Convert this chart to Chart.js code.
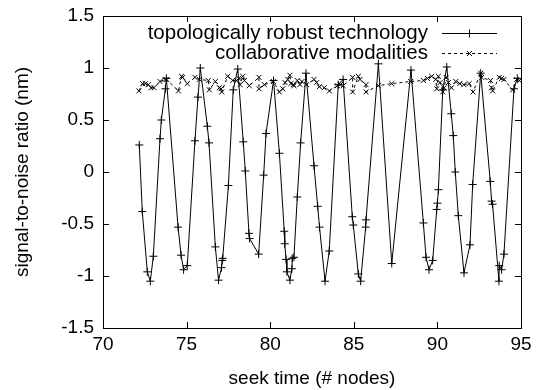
<!DOCTYPE html>
<html><head><meta charset="utf-8">
<script src="https://cdn.jsdelivr.net/npm/chart.js@4/dist/chart.umd.min.js"></script>
<style>html,body{margin:0;padding:0;background:#fff}</style>
</head><body>
<canvas id="c" width="542" height="390"></canvas>
<script>
const seriesNames = ['topologically robust technology', 'collaborative modalities'];
const xTitle = 'seek time (# nodes)';
const yTitle = 'signal-to-noise ratio (nm)';
const xTicks = [70, 75, 80, 85, 90, 95];
const yTicks = [-1.5, -1, -0.5, 0, 0.5, 1, 1.5];

const xA = [72.17,72.35,72.65,72.83,73.01,73.41,73.49,73.73,73.79,74.49,74.67,74.82,75.04,75.50,75.68,75.82,76.24,76.34,76.72,76.91,77.09,77.13,77.16,77.50,77.79,78.06,78.39,78.51,78.73,78.77,79.31,79.61,79.75,80.20,80.55,80.84,80.87,80.95,81.00,81.18,81.30,81.32,81.42,81.62,81.82,82.14,82.62,82.84,82.95,83.28,83.53,84.07,84.36,84.91,84.97,85.27,85.41,85.71,85.73,86.47,87.27,88.42,89.16,89.32,89.50,89.72,89.96,90.00,90.06,90.32,90.56,90.83,90.95,91.07,91.25,91.59,91.95,92.11,92.59,93.16,93.24,93.30,93.68,93.70,93.84,93.98,94.58,94.78];
const yA = [0.26,-0.38,-0.96,-1.05,-0.81,0.32,0.50,0.80,0.90,-0.53,-0.80,-0.94,-0.90,0.30,0.72,1.00,0.44,0.28,-0.72,-1.04,-0.92,-0.85,-0.83,-0.13,0.79,0.99,0.29,0.01,-0.59,-0.64,-0.79,-0.03,0.37,0.88,0.18,-0.57,-0.69,-0.84,-0.96,-1.04,-0.93,-0.83,-0.82,-0.24,0.28,0.95,0.06,-0.33,-0.53,-1.05,-0.76,0.84,0.89,-0.43,-0.51,-0.98,-1.05,-0.53,-0.46,1.04,-0.88,0.98,-0.49,-0.82,-0.94,-0.85,-0.36,-0.30,-0.17,0.79,1.01,0.56,0.35,0.00,-0.42,-0.97,-0.70,-0.12,0.95,-0.09,-0.28,-0.31,-1.05,-0.90,-0.94,-0.79,0.80,0.90];

const xB = [72.15,72.37,72.53,72.71,72.87,73.05,73.41,73.71,73.81,74.51,74.70,74.76,75.04,75.50,75.76,76.30,76.36,76.72,76.96,77.06,77.10,77.46,77.76,78.00,78.12,78.20,78.36,78.46,78.75,79.33,79.33,79.65,80.19,80.55,80.75,80.89,81.05,81.18,81.24,81.38,81.42,81.62,81.78,81.90,82.18,82.62,82.78,82.94,83.23,83.54,84.02,84.18,84.37,84.93,84.93,85.27,85.37,85.73,85.73,86.47,87.27,88.40,89.16,89.40,89.66,89.90,89.96,90.06,90.16,90.32,90.40,90.52,90.66,90.84,91.10,91.34,91.58,91.90,92.13,92.59,92.65,93.18,93.24,93.30,93.70,93.84,93.98,94.50,94.74,94.90];
const yB = [0.78,0.85,0.85,0.84,0.81,0.81,0.87,0.89,0.89,0.78,0.92,0.91,0.85,0.91,0.89,0.88,0.79,0.87,0.81,0.80,0.77,0.92,0.88,0.88,0.90,0.84,0.92,0.88,0.83,0.91,0.80,0.84,0.87,0.77,0.80,0.86,0.89,0.93,0.85,0.84,0.83,0.88,0.84,0.87,0.84,0.89,0.86,0.82,0.81,0.78,0.83,0.84,0.83,0.91,0.77,0.92,0.89,0.84,0.77,0.83,0.85,0.87,0.88,0.90,0.92,0.89,0.80,0.92,0.86,0.77,0.81,0.91,0.86,0.81,0.87,0.85,0.84,0.85,0.77,0.95,0.91,0.88,0.81,0.78,0.91,0.90,0.89,0.79,0.89,0.88];

const FONT = 'Liberation Sans, Arial, Helvetica, sans-serif';
const FS = 19;
const LEGEND_FS = 20.5;

const toPts = (xs, ys) => xs.map((x, i) => ({x: x, y: ys[i]}));

const gnuplotFrame = {
  id: 'gnuplotFrame',
  afterDatasetsDraw(chart) {
    const {ctx, chartArea: a, scales: {x, y}} = chart;
    ctx.save();
    ctx.strokeStyle = '#000';
    ctx.lineWidth = 1;
    ctx.setLineDash([]);
    ctx.strokeRect(Math.round(a.left) + 0.5, Math.round(a.top) + 0.5, Math.round(a.right - a.left), Math.round(a.bottom - a.top));
    const L = 6;
    ctx.beginPath();
    x.ticks.forEach(t => {
      const px = Math.round(x.getPixelForValue(t.value)) + 0.5;
      ctx.moveTo(px, a.bottom); ctx.lineTo(px, a.bottom - L);
      ctx.moveTo(px, a.top); ctx.lineTo(px, a.top + L);
    });
    y.ticks.forEach(t => {
      const py = Math.round(y.getPixelForValue(t.value)) + 0.5;
      ctx.moveTo(a.left, py); ctx.lineTo(a.left + L, py);
      ctx.moveTo(a.right, py); ctx.lineTo(a.right - L, py);
    });
    ctx.stroke();
    // legend, gnuplot style
    ctx.font = LEGEND_FS + 'px ' + FONT;
    ctx.textAlign = 'right';
    ctx.textBaseline = 'middle';
    ctx.fillStyle = '#000';
    chart.data.datasets.forEach((ds, i) => {
      const ry = 33 + i * 20;
      ctx.fillText(ds.label, 428, ry);
      ctx.save();
      ctx.strokeStyle = ds.borderColor;
      ctx.lineWidth = ds.borderWidth;
      ctx.setLineDash(ds.borderDash || []);
      ctx.beginPath();
      ctx.moveTo(442, ry + 0.5); ctx.lineTo(497, ry + 0.5);
      ctx.stroke();
      ctx.setLineDash([]);
      ctx.strokeStyle = ds.pointBorderColor;
      Chart.helpers.drawPoint(ctx, {pointStyle: ds.pointStyle, radius: ds.pointRadius, rotation: 0, borderWidth: 1}, 469.5, ry + 0.5);
      ctx.restore();
    });
    ctx.restore();
  }
};

new Chart(document.getElementById('c'), {
  type: 'scatter',
  data: {
    datasets: [
      {
        label: seriesNames[0],
        data: toPts(xA, yA),
        showLine: true,
        borderColor: '#000', borderWidth: 1,
        pointStyle: 'cross', pointRadius: 4, pointBorderColor: '#000', pointBorderWidth: 1,
        pointBackgroundColor: '#000'
      },
      {
        label: seriesNames[1],
        data: toPts(xB, yB),
        showLine: true,
        borderColor: '#000', borderWidth: 1, borderDash: [3, 3],
        pointStyle: 'crossRot', pointRadius: 3.5, pointBorderColor: '#000', pointBorderWidth: 1,
        pointBackgroundColor: '#000'
      }
    ]
  },
  options: {
    responsive: false,
    animation: false,
    devicePixelRatio: 1,
    layout: {padding: {top: 16, right: 21, left: 0, bottom: 0}},
    plugins: {legend: {display: false}, tooltip: {enabled: false}},
    scales: {
      x: {
        type: 'linear', min: 70, max: 95,
        afterBuildTicks: s => { s.ticks = xTicks.map(v => ({value: v})); },
        afterFit: s => { s.height = 62; s.paddingLeft = 0; s.paddingRight = 0; },
        grid: {display: false, drawTicks: false},
        border: {display: false},
        ticks: {color: '#000', padding: 5, maxRotation: 0, font: {family: FONT, size: FS}, callback: v => String(v)},
        title: {display: true, text: xTitle, color: '#000', font: {family: FONT, size: FS}, padding: {top: 0, bottom: 0}}
      },
      y: {
        type: 'linear', min: -1.5, max: 1.5,
        afterBuildTicks: s => { s.ticks = yTicks.map(v => ({value: v})); },
        afterFit: s => { s.width = 103; s.paddingTop = 0; s.paddingBottom = 0; },
        grid: {display: false, drawTicks: false},
        border: {display: false},
        ticks: {color: '#000', padding: 9, font: {family: FONT, size: FS}, callback: v => String(v)},
        title: {display: true, text: yTitle, color: '#000', font: {family: FONT, size: FS}, padding: {top: 11, bottom: 0}}
      }
    }
  },
  plugins: [gnuplotFrame]
});
</script>
</body></html>
